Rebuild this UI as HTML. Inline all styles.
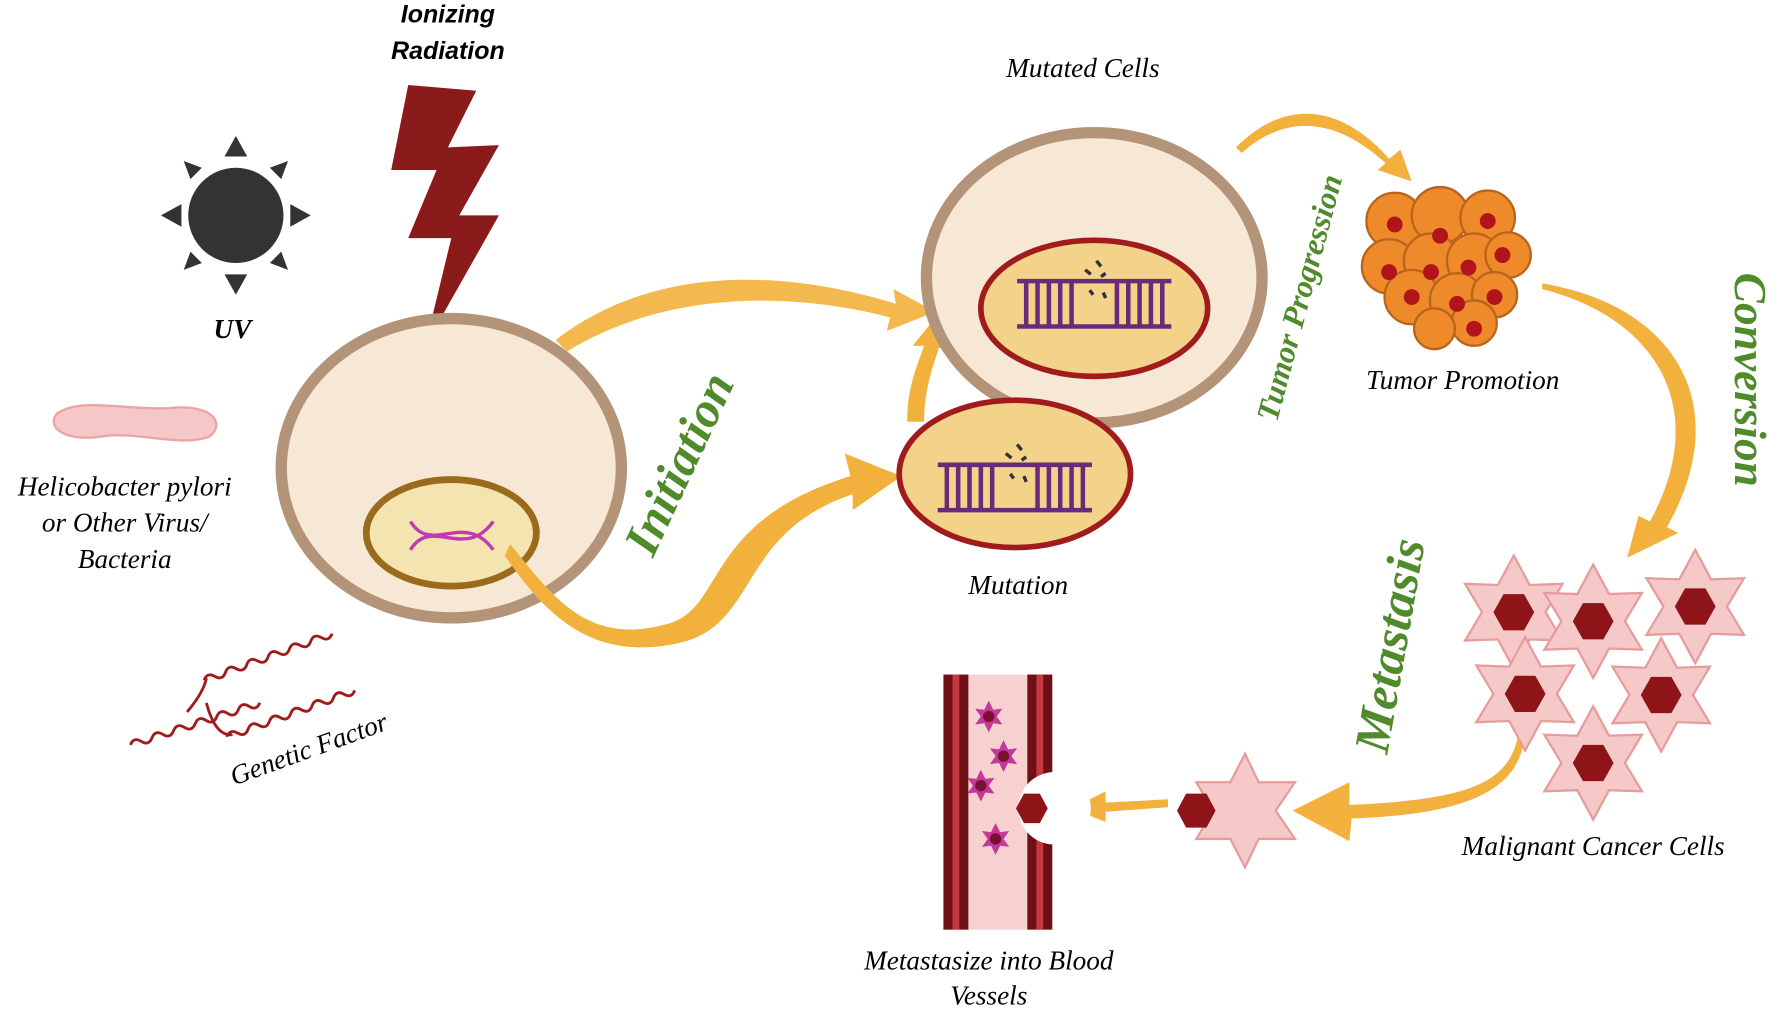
<!DOCTYPE html>
<html><head><meta charset="utf-8"><style>
html,body{margin:0;padding:0;background:#fff;}
svg{display:block;}
text{font-family:"Liberation Serif",serif;font-style:italic;}
.s{font-family:"Liberation Sans",sans-serif;font-weight:bold;font-style:italic;}
.g{fill:#4f8a2b;font-weight:bold;}
</style></head><body>
<svg width="1778" height="1009" viewBox="0 0 1568 890" preserveAspectRatio="none" xmlns="http://www.w3.org/2000/svg">
<defs>
<g id="star"><polygon points="0,-50 14,-24 43,-25 28,0 43,25 14,24 0,50 -14,24 -43,25 -28,0 -43,-25 -14,-24" fill="#f6c9c9" stroke="#e79c9c" stroke-width="2"/><polygon points="-9,-16 9,-16 18,0 9,16 -9,16 -18,0" fill="#8e1418"/></g>
<g id="ladder" stroke="#6a2a7a" stroke-width="4" fill="none"><line x1="-68" y1="-20" x2="68" y2="-20"/><line x1="-68" y1="20" x2="68" y2="20"/><path d="M-60,-20v40M-50,-20v40M-40,-20v40M-30,-20v40M-20,-20v40M20,-20v40M30,-20v40M40,-20v40M50,-20v40M60,-20v40"/><path d="M-8,-30l5,4M2,-38l4,5M6,-24l4,-3M-4,-12l3,4M8,-10l2,5" stroke="#333" stroke-width="3"/></g>
<g id="pstar"><polygon points="0,-14 4,-6 12,-7 7,0 12,7 4,6 0,14 -4,6 -12,7 -7,0 -12,-7 -4,-6" fill="#c2399a"/><circle r="5" fill="#7a1030"/></g>
<path id="wave" d="M0,0 q5,-6 10,0 t10,0 t10,0 t10,0 t10,0 t10,0 t10,0 t10,0 t10,0 t10,0 t10,0 t10,0" fill="none" stroke="#a01c1c" stroke-width="2.5"/>
</defs>
<text class="s" x="395" y="20" font-size="22" text-anchor="middle">Ionizing</text>
<text class="s" x="395" y="52" font-size="22" text-anchor="middle">Radiation</text>
<polygon points="360,75 420,80 395,130 440,128 405,190 440,190 375,305 398,210 360,210 385,150 345,150" fill="#8b1a1a"/>
<circle cx="208" cy="190" r="42" fill="#333"/>
<g fill="#333"><polygon points="208,120 198,138 218,138"/><polygon points="208,260 198,242 218,242"/><polygon points="142,190 160,180 160,200"/><polygon points="274,190 256,180 256,200"/><polygon points="162,142 178,148 168,158"/><polygon points="254,142 238,148 248,158"/><polygon points="162,238 178,232 168,222"/><polygon points="254,238 238,232 248,222"/></g>
<text x="205" y="298" font-size="24" font-weight="bold" text-anchor="middle">UV</text>
<path d="M50,365 C70,350 110,362 150,360 C185,356 200,372 185,385 C160,395 120,380 90,385 C60,390 40,378 50,365Z" fill="#f6c7c7" stroke="#eba3a3" stroke-width="2"/>
<text x="110" y="437" font-size="24" text-anchor="middle">Helicobacter pylori</text>
<text x="110" y="469" font-size="24" text-anchor="middle">or Other Virus/</text>
<text x="110" y="501" font-size="24" text-anchor="middle">Bacteria</text>
<use href="#wave" transform="translate(115,657) rotate(-18)"/>
<use href="#wave" transform="translate(180,600) rotate(-20)"/>
<use href="#wave" transform="translate(200,650) rotate(-20)"/>
<path d="M165,628 Q180,610 182,598 M182,620 Q190,650 205,648" stroke="#a01c1c" stroke-width="2.5" fill="none"/>
<text x="275" y="668" font-size="24" text-anchor="middle" transform="rotate(-20 275 668)">Genetic Factor</text>
<ellipse cx="398" cy="413" rx="150" ry="132" fill="#f7e7d5" stroke="#b39479" stroke-width="10"/>
<ellipse cx="398" cy="470" rx="75" ry="47" fill="#f4e5b0" stroke="#9a6b1c" stroke-width="6"/>
<path d="M362,485 C380,455 410,495 435,460 M362,460 C380,490 410,450 435,485" stroke="#c03ab0" stroke-width="3" fill="none"/>
<g fill="#f2b13c">
<path d="M490,300 C580,230 700,240 790,268 L788,255 L825,275 L782,292 L785,280 C700,258 590,255 500,310Z" opacity="0.9"/>
<path d="M450,480 C490,530 520,570 590,550 C640,535 620,460 750,420 L745,400 L795,420 L752,450 L752,436 C650,470 670,550 600,567 C520,585 480,540 445,490Z"/>
<path d="M800,372 C800,340 810,320 815,305 L805,305 L825,280 L840,308 L828,307 C822,325 815,345 815,372Z"/>
<path d="M1090,130 C1140,80 1190,100 1225,140 L1235,132 L1245,160 L1215,150 L1222,144 C1185,110 1140,95 1095,135Z"/>
<path d="M1360,250 C1480,270 1530,360 1470,465 L1480,470 L1435,492 L1445,455 L1455,460 C1510,360 1460,280 1360,255Z"/>
<path d="M1340,640 C1335,690 1300,705 1190,710 L1190,690 L1140,715 L1190,742 L1192,722 C1300,718 1345,695 1345,640Z"/>
<path d="M1030,705 L975,708 L975,698 L945,713 L975,725 L975,716 L1030,712Z"/>
</g>
<ellipse cx="965" cy="245" rx="148" ry="128" fill="#f7e7d5" stroke="#b39479" stroke-width="10"/>
<ellipse cx="965" cy="272" rx="100" ry="60" fill="#f3d38a" stroke="#a01c1c" stroke-width="5"/>
<use href="#ladder" x="965" y="268"/>
<ellipse cx="895" cy="418" rx="102" ry="65" fill="#f3d38a" stroke="#a01c1c" stroke-width="5"/>
<use href="#ladder" x="895" y="430"/>
<text x="955" y="68" font-size="24" text-anchor="middle">Mutated Cells</text>
<text x="898" y="524" font-size="24" text-anchor="middle">Mutation</text>
<text class="g" x="612" y="415" font-size="44" text-anchor="middle" transform="rotate(-65 612 415)">Initiation</text>
<text class="g" x="1155" y="265" font-size="28" text-anchor="middle" transform="rotate(-75 1155 265)">Tumor Progression</text>
<g fill="#ef8a2a" stroke="#b8641a" stroke-width="2">
<circle cx="1230" cy="195" r="25"/><circle cx="1270" cy="190" r="25"/><circle cx="1312" cy="192" r="24"/><circle cx="1225" cy="235" r="24"/><circle cx="1262" cy="230" r="24"/><circle cx="1300" cy="230" r="24"/><circle cx="1330" cy="225" r="20"/><circle cx="1245" cy="262" r="24"/><circle cx="1285" cy="265" r="24"/><circle cx="1318" cy="260" r="20"/><circle cx="1300" cy="285" r="20"/><circle cx="1265" cy="290" r="18"/></g>
<g fill="#b3141c"><circle cx="1230" cy="198" r="7"/><circle cx="1270" cy="208" r="7"/><circle cx="1312" cy="195" r="7"/><circle cx="1225" cy="240" r="7"/><circle cx="1262" cy="240" r="7"/><circle cx="1295" cy="236" r="7"/><circle cx="1245" cy="262" r="7"/><circle cx="1285" cy="268" r="7"/><circle cx="1318" cy="262" r="7"/><circle cx="1300" cy="290" r="7"/><circle cx="1325" cy="225" r="7"/></g>
<text x="1290" y="343" font-size="24" text-anchor="middle">Tumor Promotion</text>
<text class="g" x="1530" y="335" font-size="40" text-anchor="middle" transform="rotate(90 1530 335)">Conversion</text>
<use href="#star" x="1335" y="540"/><use href="#star" x="1405" y="548"/><use href="#star" x="1495" y="535"/><use href="#star" x="1345" y="612"/><use href="#star" x="1465" y="613"/><use href="#star" x="1405" y="673"/>
<text x="1405" y="754" font-size="24" text-anchor="middle">Malignant Cancer Cells</text>
<text class="g" x="1240" y="572" font-size="44" text-anchor="middle" transform="rotate(-80 1240 572)">Metastasis</text>
<polygon points="1098,665 1110,690 1142,690 1125,715 1142,740 1110,740 1098,765 1085,740 1055,740 1070,715 1055,690 1085,690" fill="#f6c9c9" stroke="#e79c9c" stroke-width="2"/>
<polygon points="1046,700 1064,700 1072,715 1064,730 1046,730 1038,715" fill="#8e1418"/>
<rect x="832" y="595" width="96" height="225" fill="#f7d0d0"/>
<rect x="832" y="595" width="22" height="225" fill="#6e0f14"/><rect x="840" y="595" width="6" height="225" fill="#c23a40"/>
<rect x="906" y="595" width="22" height="225" fill="#6e0f14"/><rect x="914" y="595" width="6" height="225" fill="#c23a40"/>
<circle cx="930" cy="713" r="32" fill="#fff"/>
<polygon points="903,700 917,700 924,713 917,726 903,726 896,713" fill="#8e1418"/>
<use href="#pstar" x="872" y="632"/><use href="#pstar" x="885" y="667"/><use href="#pstar" x="865" y="693"/><use href="#pstar" x="878" y="740"/>
<text x="872" y="855" font-size="24" text-anchor="middle">Metastasize into Blood</text>
<text x="872" y="886" font-size="24" text-anchor="middle">Vessels</text>
</svg>
</body></html>
